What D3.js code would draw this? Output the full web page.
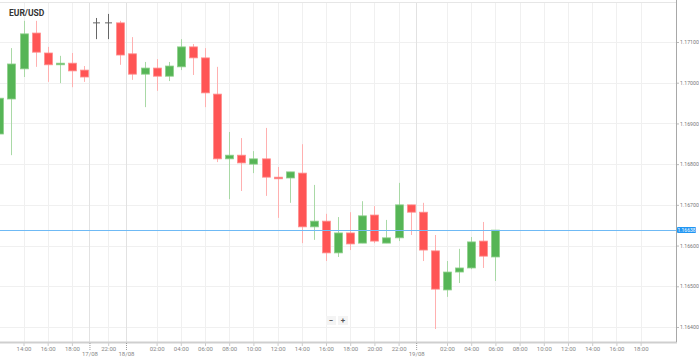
<!DOCTYPE html>
<html>
<head>
<meta charset="utf-8">
<script src="https://cdn.jsdelivr.net/npm/d3@7"></script>
<style>
  body { margin: 0; background: #fff; }
  svg { display: block; font-family: Roboto, Arial, sans-serif; }
</style>
</head>
<body>
<svg id="chart" width="699" height="360"></svg>
<script>
var width = 699,
    height = 360,
    plotRight = 676,
    plotBottom = 342,
    bodyWidth = 8;

// hourly candles, slot = position on the (gap-collapsed) time axis
var slots = [-2, -1, 0, 1, 2, 3, 4, 5, 6, 7, 8, 9, 10, 11, 12, 13, 14, 15, 16, 17, 18, 19,
             20, 21, 22, 23, 24, 25, 26, 27, 28, 29, 30, 31, 32, 33, 34, 35, 36, 37, 38, 39];
var open  = [1.16874, 1.16960, 1.17034, 1.17122, 1.17073, 1.17044, 1.17048, 1.17031, 1.17147, 1.17147,
             1.17147, 1.17071, 1.17021, 1.17036, 1.17016, 1.17039, 1.17088, 1.17061, 1.16972, 1.16813,
             1.16822, 1.16800, 1.16813, 1.16768, 1.16766, 1.16778, 1.16646, 1.16660, 1.16582, 1.16631,
             1.16606, 1.16675, 1.16606, 1.16619, 1.16700, 1.16682, 1.16587, 1.16491, 1.16535, 1.16545,
             1.16611, 1.16572];
var high  = [1.16966, 1.17085, 1.17152, 1.17152, 1.17088, 1.17066, 1.17073, 1.17041, 1.17159, 1.17169,
             1.17152, 1.17112, 1.17051, 1.17058, 1.17051, 1.17107, 1.17095, 1.17085, 1.17039, 1.16879,
             1.16864, 1.16832, 1.16889, 1.16793, 1.16781, 1.16849, 1.16749, 1.16678, 1.16670, 1.16682,
             1.16709, 1.16697, 1.16663, 1.16754, 1.16700, 1.16705, 1.16626, 1.16562, 1.16592, 1.16621,
             1.16658, 1.16638];
var low   = [1.16867, 1.16822, 1.17014, 1.17039, 1.17002, 1.16999, 1.16989, 1.17002, 1.17107, 1.17107,
             1.17044, 1.17007, 1.16940, 1.16980, 1.17004, 1.17031, 1.17019, 1.16940, 1.16805, 1.16714,
             1.16734, 1.16778, 1.16722, 1.16668, 1.16705, 1.16606, 1.16614, 1.16562, 1.16572, 1.16589,
             1.16606, 1.16606, 1.16606, 1.16611, 1.16626, 1.16562, 1.16395, 1.16474, 1.16508, 1.16542,
             1.16545, 1.16513];
var close = [1.16962, 1.17046, 1.17120, 1.17075, 1.17044, 1.17048, 1.17029, 1.17014, 1.17147, 1.17147,
             1.17068, 1.17021, 1.17036, 1.17016, 1.17041, 1.17088, 1.17061, 1.16975, 1.16813, 1.16822,
             1.16803, 1.16813, 1.16768, 1.16764, 1.16781, 1.16646, 1.16660, 1.16582, 1.16631, 1.16604,
             1.16673, 1.16611, 1.16619, 1.16700, 1.16682, 1.16589, 1.16493, 1.16535, 1.16545, 1.16609,
             1.16574, 1.16638];

var priceTicks = [1.171, 1.170, 1.169, 1.168, 1.167, 1.166, 1.165, 1.164];
var lastPrice = 1.16638;

var hourSlots  = [0, 2, 4, 7, 11, 13, 15, 17, 19, 21, 23, 25, 27, 29, 31, 35, 37, 39, 41, 43, 45, 47, 49, 51];
var hourLabels = ["14:00", "16:00", "18:00", "22:00", "02:00", "04:00", "06:00", "08:00", "10:00", "12:00",
                  "14:00", "16:00", "18:00", "20:00", "22:00", "02:00", "04:00", "06:00", "08:00", "10:00",
                  "12:00", "14:00", "16:00", "18:00"];
var dateSlots  = [5.45, 8.47, 32.45];
var dateLabels = ["17/08", "18/08", "19/08"];

var candles = slots.map(function(s, i) {
  return {slot: s, o: open[i], h: high[i], l: low[i], c: close[i]};
});

var x = d3.scaleLinear().domain([0, 35]).range([23.5, 447]);
var y = d3.scaleLinear().domain([1.164, 1.171]).range([327, 42]);

var svg = d3.select("#chart");

// top border
svg.append("line")
    .attr("x1", 0).attr("x2", plotRight).attr("y1", 2.5).attr("y2", 2.5)
    .attr("stroke", "#e6e6e6");

// grid
svg.append("g").selectAll("line")
    .data(priceTicks)
  .enter().append("line")
    .attr("x1", 0).attr("x2", plotRight)
    .attr("y1", function(d) { return Math.round(y(d)) + .5; })
    .attr("y2", function(d) { return Math.round(y(d)) + .5; })
    .attr("stroke", "#f0f0f0");

svg.append("g").selectAll("line")
    .data(hourSlots)
  .enter().append("line")
    .attr("x1", function(d) { return Math.round(x(d)) + .5; })
    .attr("x2", function(d) { return Math.round(x(d)) + .5; })
    .attr("y1", 3).attr("y2", plotBottom)
    .attr("stroke", "#f0f0f0");

svg.append("g").selectAll("line")
    .data(dateSlots)
  .enter().append("line")
    .attr("x1", function(d) { return Math.round(x(d)) + .5; })
    .attr("x2", function(d) { return Math.round(x(d)) + .5; })
    .attr("y1", 3).attr("y2", plotBottom)
    .attr("stroke", "#e2e2e2");

// candles
var candle = svg.append("g").selectAll("g")
    .data(candles)
  .enter().append("g")
    .attr("transform", function(d) { return "translate(" + Math.round(x(d.slot)) + ",0)"; });

function wickColor(d) { return d.c > d.o ? "#a9d9a6" : d.c < d.o ? "#ffb0b0" : "#666"; }

candle.append("line")
    .attr("x1", .5).attr("x2", .5)
    .attr("y1", function(d) { return y(d.h); })
    .attr("y2", function(d) { return y(d.l); })
    .attr("stroke", wickColor);

candle.filter(function(d) { return d.c !== d.o; }).append("rect")
    .attr("x", -bodyWidth / 2 + .5)
    .attr("width", bodyWidth)
    .attr("y", function(d) { return y(Math.max(d.o, d.c)); })
    .attr("height", function(d) { return Math.max(1.5, Math.abs(y(d.o) - y(d.c))); })
    .attr("fill", function(d) { return d.c > d.o ? "#56b556" : "#ff5555"; })
    .attr("stroke", function(d) { return d.c > d.o ? "#8fd08c" : "#ff8f8f"; })
    .attr("stroke-width", .8);

candle.filter(function(d) { return d.c === d.o; }).append("line")
    .attr("x1", -3).attr("x2", 4)
    .attr("y1", function(d) { return y(d.o); })
    .attr("y2", function(d) { return y(d.o); })
    .attr("stroke", "#666");

// last price line
svg.append("line")
    .attr("x1", 0).attr("x2", plotRight)
    .attr("y1", Math.round(y(lastPrice)) + .5).attr("y2", Math.round(y(lastPrice)) + .5)
    .attr("stroke", "#6fbaf5");

// axes lines
svg.append("line")
    .attr("x1", 0).attr("x2", plotRight + 1).attr("y1", plotBottom + .5).attr("y2", plotBottom + .5)
    .attr("stroke", "#cfcfcf").attr("stroke-width", 2);
svg.append("line")
    .attr("x1", plotRight + .5).attr("x2", plotRight + .5).attr("y1", 0).attr("y2", plotBottom)
    .attr("stroke", "#a8a8a8");

// right axis
var yAxis = svg.append("g")
    .attr("transform", "translate(" + (plotRight + 1) + ",0)")
    .call(d3.axisRight(y).tickValues(priceTicks).tickSize(2).tickPadding(1)
      .tickFormat(d3.format(".5f")));
yAxis.select(".domain").remove();
yAxis.selectAll(".tick line").attr("stroke", "#bbb");
yAxis.selectAll("text").attr("font-size", 5.2).attr("fill", "#777").attr("font-family", "Roboto, Arial, sans-serif");

// bottom axis, hours
var xAxis = svg.append("g")
    .attr("transform", "translate(0," + (plotBottom + 1) + ")")
    .call(d3.axisBottom(x).tickValues(hourSlots).tickSize(3).tickPadding(1)
      .tickFormat(function(d, i) { return hourLabels[i]; }));
xAxis.select(".domain").remove();
xAxis.selectAll(".tick line").attr("stroke", "#ccc");
xAxis.selectAll("text").attr("font-size", 6).attr("fill", "#888").attr("font-family", "Roboto, Arial, sans-serif");

// bottom axis, days
var dAxis = svg.append("g")
    .attr("transform", "translate(0," + (plotBottom + 1) + ")")
    .call(d3.axisBottom(x).tickValues(dateSlots).tickSize(7).tickPadding(2)
      .tickFormat(function(d, i) { return dateLabels[i]; }));
dAxis.select(".domain").remove();
dAxis.selectAll(".tick line").attr("stroke", "#999").attr("stroke-dasharray", "1,1");
dAxis.selectAll("text").attr("font-size", 6).attr("fill", "#888").attr("font-family", "Roboto, Arial, sans-serif");

// last price tag
var tag = svg.append("g").attr("transform", "translate(" + (plotRight + 1) + "," + y(lastPrice) + ")");
tag.append("rect")
    .attr("x", 0).attr("y", -3).attr("width", 19).attr("height", 6).attr("rx", 1)
    .attr("fill", "#2196f3");
tag.append("text")
    .attr("x", 9.5).attr("y", 1.8)
    .attr("text-anchor", "middle")
    .attr("font-size", 5)
    .attr("fill", "#fff")
    .text(d3.format(".5f")(lastPrice));

// title
svg.append("text")
    .attr("x", 9).attr("y", 16)
    .attr("font-size", 8.5)
    .attr("font-weight", "bold")
    .attr("fill", "#333")
    .text("EUR/USD");

// zoom buttons
var btn = svg.append("g").selectAll("g")
    .data(["\u2212", "+"])
  .enter().append("g")
    .attr("transform", function(d, i) { return "translate(" + (326 + i * 12) + ",316)"; });
btn.append("rect")
    .attr("width", 10).attr("height", 9)
    .attr("fill", "#f4f4f4");
btn.append("text")
    .attr("x", 5).attr("y", 7.3)
    .attr("text-anchor", "middle")
    .attr("font-size", 8)
    .attr("font-weight", "bold")
    .attr("fill", "#555")
    .text(function(d) { return d; });
</script>
</body>
</html>
